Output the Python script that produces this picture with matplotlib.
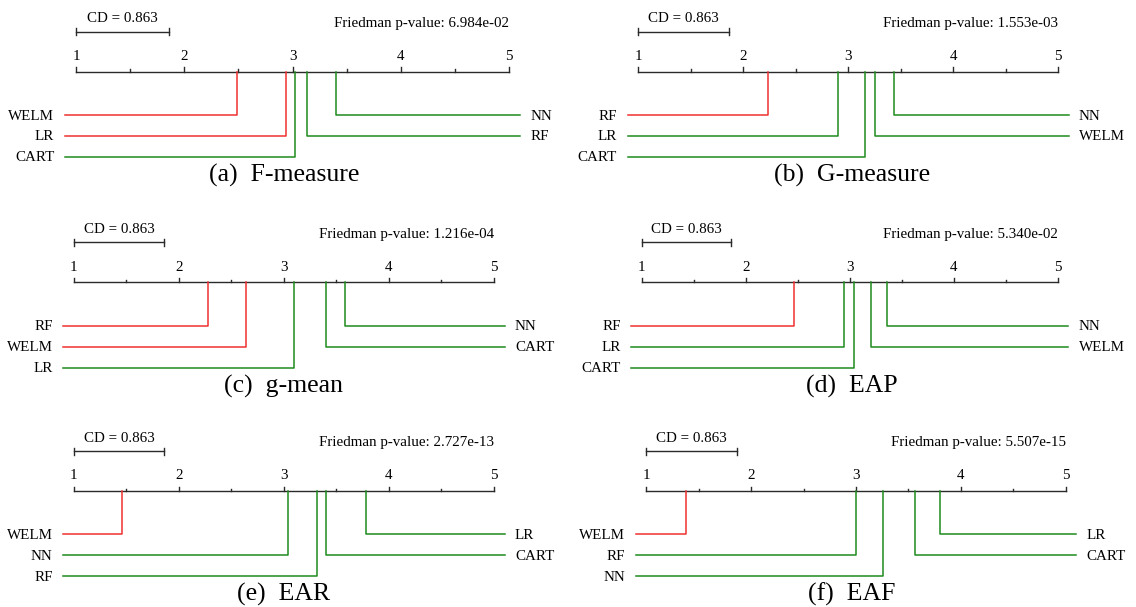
import matplotlib
matplotlib.use("Agg")
import matplotlib.pyplot as plt
from matplotlib.transforms import blended_transform_factory

plt.rcParams['font.family'] = ['Liberation Serif', 'DejaVu Serif']

# average ranks per metric (panels a-f)
metrics = ['F-measure', 'G-measure', 'g-mean', 'EAP', 'EAR', 'EAF']
letters = ['a', 'b', 'c', 'd', 'e', 'f']
methods = ['WELM', 'LR', 'CART', 'RF', 'NN']
welm = [2.49, 3.26, 2.64, 3.20, 1.46, 1.38]
lr = [2.94, 2.90, 3.10, 2.94, 3.78, 3.80]
cart = [3.02, 3.16, 3.40, 3.04, 3.40, 3.56]
rf = [3.13, 2.24, 2.28, 2.46, 3.32, 3.00]
nn = [3.40, 3.44, 3.58, 3.36, 3.04, 3.26]
pvalues = [6.984e-02, 1.553e-03, 1.216e-04, 5.340e-02, 2.727e-13, 5.507e-15]
cd = 0.863
red_methods = [['WELM', 'LR'], ['RF'], ['RF', 'WELM'], ['RF'], ['WELM'], ['WELM']]

W, H = 1136, 607
# pixel geometry of each panel: x of rank 1, x of rank 5, y of the rank axis
panels = [(76, 509, 71.7), (638, 1058, 71.7),
          (73.7, 494, 282.3), (641.6, 1058, 282.3),
          (73.7, 494, 491), (646.3, 1065.7, 491)]

fig = plt.figure(figsize=(W / 100, H / 100), dpi=100)

ranks_all = [welm, lr, cart, rf, nn]
axis_col = '#2a2a2a'
fs = 10.8

for i in range(6):
    px1, px5, A = panels[i]
    col = i % 2
    cx0, cx1 = col * W / 2, (col + 1) * W / 2
    s = (px5 - px1) / 4.0
    top, bot = 72, 118
    ax = fig.add_axes([cx0 / W, 1 - (A + bot) / H, (cx1 - cx0) / W, (top + bot) / H])
    ax.set_xlim(1 + (cx0 - px1) / s, 1 + (cx1 - px1) / s)
    ax.set_ylim(bot, -top)
    ax.axis('off')

    # rank axis with ticks
    ax.plot([1, 5], [0, 0], color=axis_col, lw=1.0)
    for t in [1, 1.5, 2, 2.5, 3, 3.5, 4, 4.5, 5]:
        h = 4.5 if t == int(t) else 2.5
        ax.plot([t, t], [0, -h], color=axis_col, lw=1.0)
    for t in [1, 2, 3, 4, 5]:
        ax.text(t, -11.7, str(t), ha='center', va='baseline', fontsize=fs)

    # critical difference bar
    ax.plot([1, 1 + cd], [-40, -40], color=axis_col, lw=1.0)
    for x in [1, 1 + cd]:
        ax.plot([x, x], [-43.5, -36.5], color=axis_col, lw=1.0)
    ax.text(1 + cd / 2, -49.5, 'CD = %.3f' % cd, ha='center', va='baseline', fontsize=fs)
    ax.text(5, -44.7, 'Friedman p-value: %.3e' % pvalues[i], ha='right', va='baseline', fontsize=fs)

    # methods sorted by rank: best three on the left, rest on the right
    r = [(ranks_all[k][i], methods[k]) for k in range(5)]
    r.sort()
    rows = [43.3, 64.2, 85.2]
    left = r[:3]
    right = r[3:][::-1]
    for j, (val, name) in enumerate(left):
        c = '#f03030' if name in red_methods[i] else '#1e8c1e'
        y = rows[j]
        ax.plot([val, val, 1 - 0.1], [0, y, y], color=c, lw=1.1)
        ax.text(1 - 0.2, y + 4.5, name, ha='right', va='baseline', fontsize=fs)
    for j, (val, name) in enumerate(right):
        c = '#f03030' if name in red_methods[i] else '#1e8c1e'
        y = rows[j]
        ax.plot([val, val, 5 + 0.1], [0, y, y], color=c, lw=1.1)
        ax.text(5 + 0.2, y + 4.5, name, ha='left', va='baseline', fontsize=fs)

    trans = blended_transform_factory(ax.transAxes, ax.transData)
    ax.text(0.5, 110, '(%s)  %s' % (letters[i], metrics[i]), transform=trans,
            ha='center', va='baseline', fontsize=18.5)

fig.savefig('out.png', dpi=100)
